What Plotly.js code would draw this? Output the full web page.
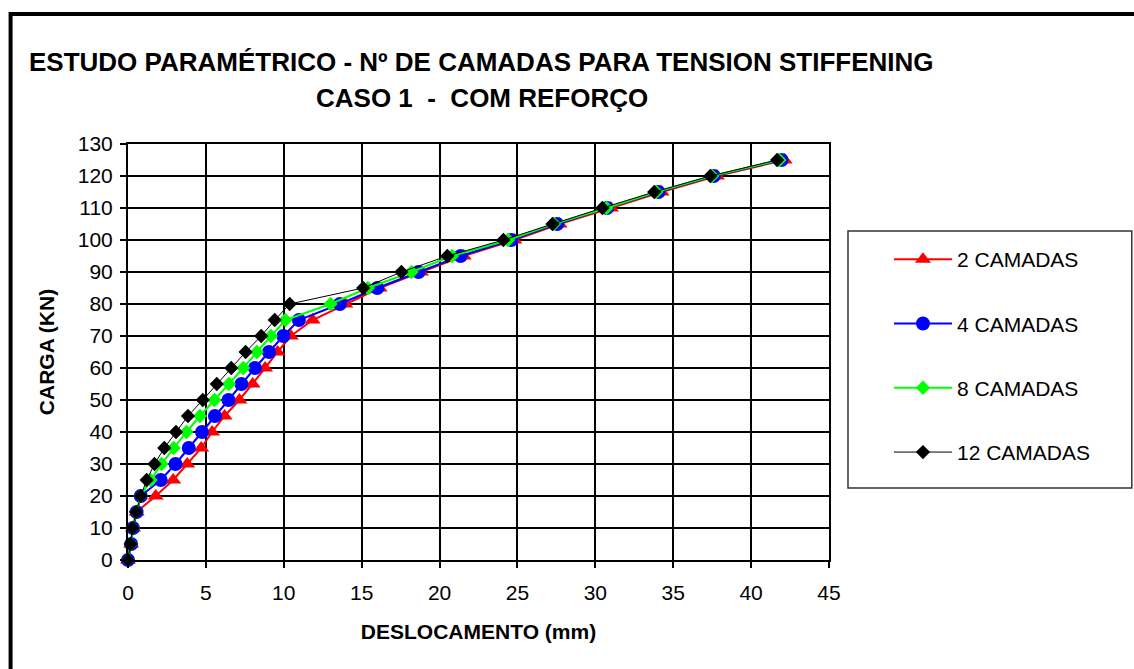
<!DOCTYPE html>
<html>
<head>
<meta charset="utf-8">
<script src="https://cdn.plot.ly/plotly-3.0.1.min.js"></script>
<style>
  html, body { margin: 0; padding: 0; background: #fff; }
  #chart { width: 1134px; height: 669px; }
</style>
</head>
<body>
<div id="chart"></div>
<script>
// Load levels (kN) shared by all series
const carga = [0, 5, 10, 15, 20, 25, 30, 35, 40, 45, 50, 55, 60, 65, 70, 75, 80, 85, 90, 95, 100, 105, 110, 115, 120, 125];

// Displacement (mm) for each number of tension-stiffening layers
const desl2 = [0, 0.2, 0.32, 0.55, 1.78, 2.9, 3.8, 4.7, 5.4, 6.2, 7.15, 8.0, 8.8, 9.6, 10.45, 11.85, 13.95, 16.15, 18.8, 21.55, 24.8, 27.7, 31.0, 34.25, 37.8, 42.15];
const desl4 = [0, 0.2, 0.32, 0.55, 0.82, 2.1, 3.05, 3.9, 4.75, 5.58, 6.45, 7.28, 8.15, 9.05, 9.97, 10.97, 13.6, 16.0, 18.65, 21.35, 24.6, 27.55, 30.75, 34.05, 37.6, 41.95];
const desl8 = [0, 0.18, 0.3, 0.52, 0.82, 1.45, 2.15, 2.93, 3.75, 4.62, 5.55, 6.48, 7.4, 8.27, 9.17, 10.1, 13.0, 15.4, 18.2, 20.8, 24.4, 27.35, 30.72, 33.92, 37.5, 41.82];
const desl12 = [0, 0.17, 0.3, 0.52, 0.82, 1.2, 1.7, 2.33, 3.08, 3.85, 4.8, 5.7, 6.63, 7.55, 8.55, 9.42, 10.38, 15.1, 17.55, 20.5, 24.1, 27.25, 30.45, 33.78, 37.38, 41.67];

const serieNomes = ['2 CAMADAS', '4 CAMADAS', '8 CAMADAS', '12 CAMADAS'];

const FONT = 'Liberation Sans, Arial, sans-serif';

const traces = [
  { x: desl2, y: carga, name: serieNomes[0], legendgroup: 'a',
    line: { color: '#ff0000', width: 2 },
    marker: { symbol: 'triangle-up', size: 14, color: '#ff0000' } },
  { x: desl4, y: carga, name: serieNomes[1], legendgroup: 'b',
    line: { color: '#0000ff', width: 2 },
    marker: { symbol: 'circle', size: 14, color: '#0000ff' } },
  { x: desl8, y: carga, name: serieNomes[2], legendgroup: 'c',
    line: { color: '#00ff00', width: 2 },
    marker: { symbol: 'diamond', size: 11, color: '#00ff00' } },
  { x: desl12, y: carga, name: serieNomes[3], legendgroup: 'd',
    line: { color: '#000000', width: 1 },
    marker: { symbol: 'diamond', size: 11, color: '#000000' } }
].map(t => Object.assign({ type: 'scatter', mode: 'lines+markers', cliponaxis: false }, t));

// plot area in pixels: left 127.5, right 829, top 144, bottom 560
const L = 127.5, R = 829, T = 144, B = 560;
const px = v => (v - L) / (R - L);
const py = v => (B - v) / (B - T);

const layout = {
  width: 1134, height: 669,
  margin: { l: L, r: 1134 - R, t: T, b: 669 - B, pad: 0 },
  paper_bgcolor: '#ffffff',
  plot_bgcolor: '#ffffff',
  font: { family: FONT, color: '#000' },
  showlegend: true,
  legend: {
    x: px(889), y: py(239), xanchor: 'left', yanchor: 'top',
    font: { family: FONT, size: 21, color: '#000' },
    bgcolor: 'rgba(0,0,0,0)', borderwidth: 0,
    tracegroupgap: 34, itemwidth: 58
  },
  xaxis: {
    range: [0, 45], tick0: 0, dtick: 5,
    showgrid: true, gridcolor: '#000', gridwidth: 2,
    zeroline: false,
    showline: true, linecolor: '#000', linewidth: 2, mirror: true,
    ticks: 'outside', ticklen: 6, tickwidth: 2, tickcolor: '#000',
    tickfont: { family: FONT, size: 21, color: '#000' },
    ticklabelstandoff: 7,
    title: { text: '<b>DESLOCAMENTO (mm)</b>', font: { family: FONT, size: 21, color: '#000' }, standoff: 21 }
  },
  yaxis: {
    range: [0, 130], tick0: 0, dtick: 10,
    showgrid: true, gridcolor: '#000', gridwidth: 2,
    zeroline: false,
    showline: true, linecolor: '#000', linewidth: 2, mirror: true,
    ticks: 'outside', ticklen: 6, tickwidth: 2, tickcolor: '#000',
    tickfont: { family: FONT, size: 21, color: '#000' },
    ticklabelstandoff: 3,
    title: { text: '<b>CARGA (KN)</b>', font: { family: FONT, size: 21, color: '#000' }, standoff: 17 }
  },
  annotations: [
    { xref: 'paper', yref: 'paper', x: px(481.5), y: py(62), xanchor: 'center', yanchor: 'middle',
      text: '<b>ESTUDO PARAMÉTRICO - Nº DE CAMADAS PARA TENSION STIFFENING</b>',
      showarrow: false, font: { family: FONT, size: 26, color: '#000' } },
    { xref: 'paper', yref: 'paper', x: px(482), y: py(98), xanchor: 'center', yanchor: 'middle',
      text: '<b>CASO 1  -  COM REFORÇO</b>',
      showarrow: false, font: { family: FONT, size: 26, color: '#000' } }
  ],
  shapes: [
    // outer chart frame
    { type: 'rect', xref: 'paper', yref: 'paper', x0: px(10), x1: px(1150), y0: py(14), y1: py(690),
      line: { color: '#000', width: 4 }, fillcolor: 'rgba(0,0,0,0)', layer: 'below' },
    // legend frame
    { type: 'rect', xref: 'paper', yref: 'paper', x0: px(848), x1: px(1132), y0: py(231), y1: py(488),
      line: { color: '#333', width: 1.5 }, fillcolor: 'rgba(0,0,0,0)', layer: 'below' }
  ]
};

Plotly.newPlot('chart', traces, layout, { displayModeBar: false, staticPlot: true });
</script>
</body>
</html>
